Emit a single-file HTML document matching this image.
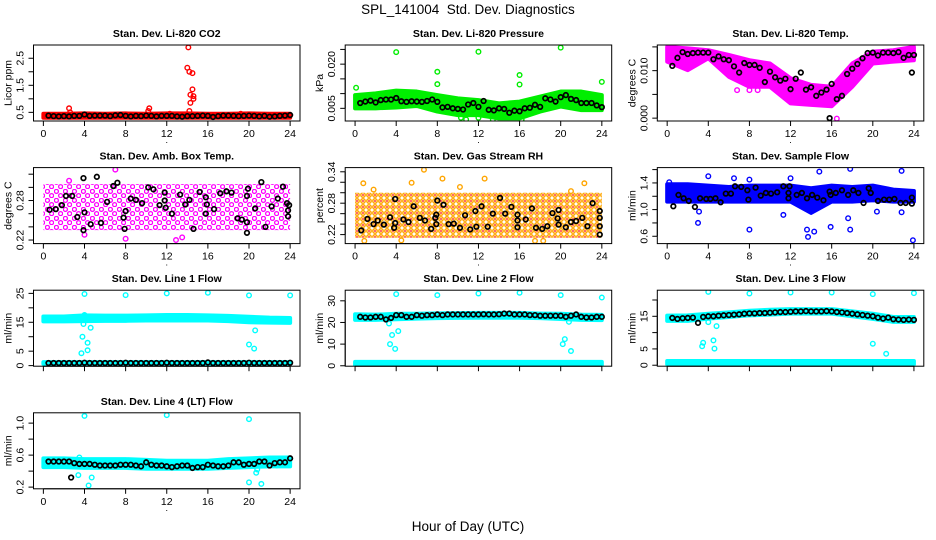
<!DOCTYPE html>
<html><head><meta charset="utf-8"><style>
body{margin:0;background:#fff;}
svg{display:block;font-family:"Liberation Sans",Arial,sans-serif;}
</style></head><body>
<svg id="chart" width="936" height="540" viewBox="0 0 936 540" xmlns="http://www.w3.org/2000/svg">
<defs>
<pattern id="patMag" width="9" height="9" patternUnits="userSpaceOnUse"><circle cx="2.4" cy="2.4" r="2.0" fill="none" stroke="#ff00ff" stroke-width="1.3"/><circle cx="6.6" cy="6.6" r="2.0" fill="none" stroke="#ff00ff" stroke-width="1.3"/></pattern>
<pattern id="patOrg" width="6" height="6" patternUnits="userSpaceOnUse"><circle cx="3" cy="3" r="2.2" fill="none" stroke="#ffa500" stroke-width="1.5"/><circle cx="3" cy="3" r="0.9" fill="#ff0000"/></pattern>
</defs>
<text x="468" y="14" text-anchor="middle" font-size="13.5">SPL_141004&#160; Std. Dev. Diagnostics</text>
<text x="468" y="531" text-anchor="middle" font-size="13.5">Hour of Day (UTC)</text>
</svg>
<script>
const bandHours = [0,2,4,6,8,10,12,14,16,18,20,22,24];
const halfHours = [0.5,1,1.5,2,2.5,3,3.5,4,4.5,5,5.5,6,6.5,7,7.5,8,8.5,9,9.5,10,10.5,11,11.5,12,12.5,13,13.5,14,14.5,15,15.5,16,16.5,17,17.5,18,18.5,19,19.5,20,20.5,21,21.5,22,22.5,23,23.5,24];
const xTicks = [0,4,8,12,16,20,24];

// P1 CO2
const co2BandLo = [0.30,0.30,0.30,0.30,0.30,0.30,0.30,0.30,0.30,0.30,0.30,0.30,0.30];
const co2BandHi = [0.45,0.45,0.46,0.45,0.46,0.45,0.46,0.46,0.45,0.45,0.46,0.45,0.45];
const co2OutX = [2.5,2.6,10.3,10.2,12.3,14.1,14.0,14.2,14.5,14.5,14.3,14.6,14.6,14.3,14.2,19.2];
const co2OutY = [0.65,0.5,0.65,0.55,0.45,2.9,2.15,2.0,1.95,1.35,1.15,1.1,1.0,0.85,0.55,0.45];
const co2Black = [0.38,0.36,0.35,0.36,0.35,0.37,0.37,0.42,0.37,0.38,0.38,0.38,0.36,0.39,0.40,0.37,0.35,0.37,0.36,0.38,0.37,0.35,0.37,0.37,0.37,0.35,0.34,0.36,0.36,0.37,0.38,0.37,0.33,0.36,0.38,0.38,0.37,0.36,0.37,0.38,0.37,0.35,0.37,0.34,0.35,0.37,0.38,0.40];

// P2 Pressure
const presBandLo = [0.005,0.005,0.0053,0.0058,0.0039,0.0027,0.0027,0.0016,0.0016,0.0039,0.0056,0.0044,0.0044];
const presBandHi = [0.0095,0.0101,0.011,0.0107,0.0095,0.0084,0.0078,0.0067,0.0073,0.0090,0.0107,0.0107,0.0095];
const presOutX = [0.1,4.0,8.0,8.0,12.0,16.0,16.0,20.0,24.0,10.3,10.8,12.0,13.4,16.2];
const presOutY = [0.012,0.0241,0.0174,0.0132,0.0242,0.0163,0.0131,0.0256,0.014,0.0018,0.0012,0.0018,0.0012,0.0012];
const presBlack = [0.0068,0.0073,0.0076,0.0070,0.0078,0.0080,0.0080,0.0085,0.0074,0.0072,0.0074,0.0073,0.0072,0.0075,0.0080,0.0072,0.0053,0.0055,0.0050,0.0048,0.0046,0.0063,0.0068,0.0055,0.0075,0.0045,0.0043,0.0050,0.0048,0.0035,0.0042,0.0040,0.0050,0.0052,0.0062,0.0055,0.0084,0.0080,0.0073,0.0088,0.0095,0.0082,0.0078,0.0068,0.0068,0.0068,0.0060,0.0054];

// P3 Temp
const tempBandLo = [0.0119,0.0101,0.0126,0.0087,0.0066,0.0066,0.0031,0.0028,0.0025,0.0066,0.0115,0.0119,0.0122];
const tempBandHi = [0.0150,0.0147,0.0143,0.0133,0.0122,0.0115,0.0084,0.0070,0.0066,0.0115,0.0140,0.0143,0.0150];
const tempOutX = [6.8,8.0,8.8,16.5];
const tempOutY = [0.0059,0.0059,0.0059,-0.0001];
const tempBlack = [0.0110,0.0127,0.0139,0.0135,0.0137,0.0138,0.0138,0.0138,0.0124,0.0130,0.0124,0.0122,0.0109,0.0096,0.0116,0.0112,0.0112,0.0106,0.0076,0.0098,0.0086,0.0079,0.0083,0.0061,0.0083,0.0096,0.0060,0.0065,0.0047,0.0054,0.0060,0.0072,0.0040,0.0047,0.0093,0.0104,0.0114,0.0126,0.0137,0.0138,0.0132,0.0138,0.0138,0.0137,0.0139,0.0127,0.0133,0.0133];
const tempExtraX = [15.8,23.8];
const tempExtraY = [0.0,0.0096];

// P4 Amb box temp
const ambBandLo = [0.235,0.235,0.235,0.235,0.235,0.235,0.235,0.235,0.235,0.235,0.235,0.235,0.235];
const ambBandHi = [0.305,0.305,0.305,0.305,0.305,0.305,0.305,0.305,0.305,0.305,0.305,0.305,0.305];
const ambOutX = [7.0,12.9,8.0,13.5,4.0,2.5];
const ambOutY = [0.327,0.22,0.222,0.224,0.228,0.31];
const ambBlackX = [0.6,1.2,1.8,2.2,2.8,3.3,3.9,3.9,4.0,4.6,5.2,5.6,6.2,6.8,7.2,7.8,7.9,8.0,8.5,9.0,9.6,10.2,10.7,11.3,11.8,11.8,11.9,12.5,13.3,13.8,14.2,14.6,15.2,15.8,15.9,15.8,16.6,17.2,17.8,18.3,18.9,19.3,19.8,19.8,19.8,19.9,20.6,21.2,21.6,22.2,22.8,23.3,23.7,23.8,23.8,23.9];
const ambBlackY = [0.266,0.267,0.273,0.287,0.287,0.255,0.235,0.314,0.262,0.244,0.316,0.246,0.278,0.302,0.307,0.254,0.237,0.264,0.283,0.281,0.276,0.300,0.297,0.273,0.292,0.280,0.269,0.260,0.289,0.274,0.281,0.237,0.293,0.285,0.274,0.260,0.267,0.291,0.294,0.292,0.253,0.251,0.287,0.247,0.231,0.298,0.268,0.308,0.240,0.271,0.283,0.301,0.276,0.265,0.256,0.273];

// P5 Gas stream RH
const rhBandLo = [0.214,0.214,0.214,0.214,0.214,0.214,0.214,0.214,0.214,0.214,0.214,0.214,0.214];
const rhBandHi = [0.300,0.300,0.300,0.300,0.300,0.300,0.300,0.300,0.300,0.300,0.300,0.300,0.300];
const rhOutX = [0.8,1.8,5.5,6.7,8.5,10.2,12.6,22.3,21.0,0.9,4.5,17.5,18.3];
const rhOutY = [0.318,0.306,0.319,0.344,0.327,0.311,0.327,0.318,0.303,0.208,0.209,0.208,0.208];
const rhBlackX = [0.6,1.2,1.8,2.2,2.8,3.4,3.9,3.9,3.8,4.7,5.2,5.7,6.3,6.8,7.4,7.8,7.9,7.9,8.0,8.6,9.1,9.6,10.2,10.7,11.2,11.7,11.8,12.3,12.9,13.4,14.1,14.6,15.2,15.8,15.8,15.8,16.6,17.2,17.6,18.2,18.7,19.2,19.7,19.8,19.8,20.5,21.0,21.5,22.1,22.6,23.1,23.8,23.8,23.8,23.8];
const rhBlackY = [0.228,0.250,0.240,0.247,0.239,0.253,0.288,0.242,0.233,0.249,0.244,0.274,0.252,0.247,0.231,0.252,0.258,0.240,0.285,0.277,0.240,0.241,0.233,0.257,0.230,0.265,0.235,0.274,0.235,0.260,0.290,0.260,0.273,0.258,0.247,0.234,0.249,0.270,0.233,0.231,0.236,0.261,0.251,0.267,0.239,0.234,0.244,0.246,0.252,0.236,0.280,0.265,0.252,0.236,0.220];

// P6 Sample flow
const sfBandLo = [1.12,1.12,1.12,1.12,1.12,1.12,1.12,0.95,1.12,1.12,1.14,1.12,1.12];
const sfBandHi = [1.38,1.38,1.36,1.34,1.36,1.36,1.36,1.32,1.36,1.34,1.36,1.30,1.28];
const sfOutX = [4.0,6.5,8.0,8.0,3.0,12.0,13.6,13.7,14.3,14.8,15.9,17.8,17.8,17.6,20.4,22.8,22.8,23.9,11.3,3.1,0.2];
const sfOutY = [1.5,1.47,1.45,0.7,0.8,1.47,0.7,0.59,0.67,1.57,0.74,1.61,0.7,0.87,0.97,1.58,0.96,0.54,0.92,0.97,1.41];
const sfBlackX = [0.6,1.1,1.6,2.1,2.7,3.2,3.8,4.2,4.7,5.2,5.7,6.2,6.6,7.2,7.8,7.9,8.6,9.1,9.6,10.1,10.7,11.3,11.8,11.8,11.9,12.6,13.1,13.6,14.1,14.6,15.2,15.8,15.9,16.4,17.0,17.6,18.1,18.6,19.1,19.6,19.8,20.5,21.1,21.6,22.1,22.7,23.2,23.8,23.8];
const sfBlackY = [1.05,1.22,1.17,1.13,1.04,1.17,1.16,1.16,1.17,1.11,1.24,1.24,1.35,1.34,1.29,1.15,1.33,1.21,1.25,1.24,1.26,1.35,1.25,1.17,1.35,1.22,1.25,1.17,1.22,1.18,1.14,1.27,1.22,1.25,1.29,1.22,1.29,1.25,1.10,1.32,1.25,1.13,1.15,1.15,1.16,1.10,1.10,1.18,1.09];

// P7 Line 1
const l1BandLo = [15.3,15.3,15.4,15.5,15.5,15.6,15.6,15.6,15.6,15.4,15.0,14.9,14.8];
const l1BandHi = [17.0,17.0,17.4,17.3,17.3,17.4,17.5,17.5,17.4,17.2,16.9,16.6,16.5];
const l1LowLo = [0.6,0.6,0.6,0.6,0.6,0.6,0.6,0.6,0.6,0.6,0.6,0.6,0.6];
const l1LowHi = [1.2,1.2,1.2,1.2,1.2,1.2,1.2,1.2,1.2,1.2,1.2,1.2,1.2];
const l1OutX = [3.7,3.8,4.0,4.0,3.9,4.3,4.3,4.6,8.0,12.0,16.0,20.0,20.0,20.5,20.6,24.0,16.5];
const l1OutY = [4.3,10.0,24.8,17.5,14.4,7.9,5.3,13.1,24.4,25.0,25.2,24.3,7.3,5.9,12.2,24.3,-0.3];
const l1Black = [0.9,0.9,0.9,0.9,0.9,0.9,0.9,1.0,0.9,0.9,0.9,0.9,0.9,0.9,0.9,1.0,0.9,0.9,0.9,0.9,0.9,0.9,0.9,1.0,0.9,0.9,0.9,0.9,0.9,0.9,0.9,1.1,0.9,0.9,0.9,0.9,0.9,0.9,0.9,1.0,0.9,0.9,0.9,0.9,0.9,0.9,0.9,1.0];

// P8 Line 2
const l2BandLo = [21.2,21.2,21.5,21.8,22.0,22.1,22.2,22.2,22.2,22.0,21.6,21.2,21.1];
const l2BandHi = [23.8,23.6,24.0,24.0,24.2,24.3,24.4,24.4,24.4,24.1,24.0,23.6,23.5];
const l2LowLo = [0.3,0.3,0.3,0.3,0.3,0.3,0.3,0.3,0.3,0.3,0.3,0.3,0.3];
const l2LowHi = [1.8,1.8,1.8,1.8,1.8,1.8,1.8,1.8,1.8,1.8,1.8,1.8,1.8];
const l2OutX = [4.0,8.0,12.0,16.0,20.0,24.0,3.3,3.4,3.6,4.2,3.9,20.2,20.4,20.8,21.0];
const l2OutY = [33.1,32.6,33.4,33.7,32.6,31.5,19.5,10.0,14.2,16.0,7.8,10.0,12.3,20.3,6.8];
const l2Black = [22.6,22.3,22.3,22.6,22.6,21.4,22.1,23.4,23.4,22.6,22.6,23.4,23.1,23.4,23.4,23.7,23.4,23.7,23.7,23.7,23.7,23.7,23.7,23.7,23.8,23.7,23.7,23.8,24.1,24.1,23.7,23.7,23.7,23.4,23.4,23.1,23.1,23.1,23.1,23.1,22.6,23.1,23.7,22.6,22.3,22.3,22.6,22.6];

// P9 Line 3
const l3BandLo = [13.6,13.6,14.3,14.8,15.3,15.5,15.8,15.8,15.8,15.0,14.2,13.3,13.3];
const l3BandHi = [15.2,15.3,15.8,16.2,16.7,17.0,17.2,17.2,17.2,16.5,15.8,14.8,14.8];
const l3LowLo = [0.3,0.3,0.3,0.3,0.3,0.3,0.3,0.3,0.3,0.3,0.3,0.3,0.3];
const l3LowHi = [1.3,1.3,1.3,1.3,1.3,1.3,1.3,1.3,1.3,1.3,1.3,1.3,1.3];
const l3OutX = [4.0,8.0,12.0,16.0,20.0,24.0,3.4,3.5,4.5,4.6,4.8,4.0,20.0,21.3];
const l3OutY = [22.5,22.0,22.3,22.3,21.8,22.1,5.8,6.9,7.6,5.1,12.0,13.2,6.6,3.5];
const l3Black = [14.5,14.2,14.4,14.5,14.6,13.0,14.8,15.0,15.0,15.2,15.3,15.4,15.5,15.6,15.8,15.9,15.9,16.0,16.0,16.1,16.2,16.3,16.3,16.4,16.5,16.5,16.6,16.5,16.5,16.5,16.6,16.5,16.3,16.2,16.0,15.8,15.6,15.4,15.2,15.0,14.6,14.3,14.6,14.1,14.0,13.9,14.0,13.9];

// P10 Line 4
const l4BandLo = [0.45,0.45,0.44,0.44,0.44,0.43,0.43,0.43,0.43,0.44,0.45,0.46,0.46];
const l4BandHi = [0.56,0.56,0.55,0.55,0.55,0.54,0.53,0.53,0.53,0.55,0.56,0.57,0.57];
const l4OutX = [4.0,12.0,20.0,3.4,4.4,4.7,3.5,20.0,20.7,20.8,21.2,22.7];
const l4OutY = [1.09,1.10,1.05,0.35,0.22,0.32,0.57,0.26,0.38,0.42,0.24,0.47];
const l4Black = [0.52,0.52,0.52,0.52,0.52,0.50,0.49,0.49,0.49,0.48,0.47,0.47,0.47,0.47,0.48,0.48,0.48,0.47,0.46,0.51,0.48,0.47,0.47,0.46,0.45,0.46,0.47,0.47,0.44,0.45,0.45,0.48,0.47,0.46,0.46,0.47,0.51,0.51,0.48,0.49,0.49,0.52,0.52,0.47,0.50,0.51,0.51,0.56];
const l4ExtraX = [2.7];
const l4ExtraY = [0.32];

const NS = "http://www.w3.org/2000/svg";
const svg = document.getElementById("chart");
const colLeft = [33.5, 345.2, 657.3];
const rowTop = [45, 167.6, 290.2, 412.8];
const boxW = 266.5, boxH = 76;

function mk(tag, attrs, parent) {
  const e = document.createElementNS(NS, tag);
  for (const k in attrs) e.setAttribute(k, attrs[k]);
  (parent || svg).appendChild(e);
  return e;
}

function panel(p) {
  const L = colLeft[p.col], T = rowTop[p.row], B = T + boxH, R = L + boxW;
  const g = mk("g", {});
  
  
  const xs = h => L + (h + 0.96) / 25.92 * boxW;
  const ys = v => B - (v - p.lo) / (p.hi - p.lo) * boxH;
  const cp = mk("clipPath", {id: "clip-" + p.name}, g);
  mk("rect", {x: L, y: T, width: boxW, height: boxH}, cp);
  const pg = mk("g", {"clip-path": "url(#clip-" + p.name + ")"}, g);
  function band(lo, hi, fill, col) {
    let d = "";
    bandHours.forEach((h, i) => { d += (i ? "L" : "M") + xs(h) + "," + ys(hi[i]); });
    for (let i = bandHours.length - 1; i >= 0; i--) d += "L" + xs(bandHours[i]) + "," + ys(lo[i]);
    const b = mk("path", {d: d + "Z", fill: fill, stroke: col, "stroke-width": 4, "stroke-linejoin": "round"}, pg);
    
    
  }
  function pts(X, Y, col, sw, nm) {
    X.forEach((x, i) => {
      if (Y[i] == null) return;
      const c = mk("circle", {cx: xs(x), cy: ys(Y[i]), r: 2.3, fill: "none", stroke: col, "stroke-width": sw}, pg);
      
      
    });
  }
  if (p.band) band(p.band[0], p.band[1], p.fill || p.color, p.edge || p.color);
  if (p.low) band(p.low[0], p.low[1], p.color, p.color);
  if (p.outX) pts(p.outX, p.outY, p.color, 1.4, p.name + '-outlier-point');
  if (p.blackX) pts(p.blackX, p.blackY, "#000", 1.7, p.name + '-black-point');
  if (p.extraX) pts(p.extraX, p.extraY, "#000", 1.7, p.name + '-black-point');
  const bx = mk("rect", {x: L, y: T, width: boxW, height: boxH, fill: "none", stroke: "#000", "stroke-width": 1}, g);
  
  
  const t = mk("text", {x: L + boxW / 2, y: T - 8, "text-anchor": "middle", "font-size": "10.5", "font-weight": "bold"}, g);
  t.textContent = p.title;
  
  
  mk("line", {x1: xs(0), x2: xs(24), y1: B, y2: B, stroke: "#000"}, g);
  xTicks.forEach(h => {
    mk("line", {x1: xs(h), x2: xs(h), y1: B, y2: B + 5, stroke: "#000"}, g);
    if (p.xlabels) {
      const tl = mk("text", {x: xs(h), y: B + 16, "text-anchor": "middle", "font-size": "10.5"}, g);
      tl.textContent = String(h);
      
      
    }
  });
  if (p.xlabels) {
    const dot = mk("text", {x: L + boxW / 2, y: B + 22, "text-anchor": "middle", "font-size": "9"}, g);
    dot.textContent = ".";
    
    
  }
  mk("line", {x1: L, x2: L, y1: ys(p.ticks[0]), y2: ys(p.ticks[p.ticks.length - 1]), stroke: "#000"}, g);
  p.ticks.forEach((v, i) => {
    const y = ys(v);
    mk("line", {x1: L - 5, x2: L, y1: y, y2: y, stroke: "#000"}, g);
    if (p.tickLabels[i]) {
      const tl = mk("text", {x: 0, y: 0, "text-anchor": "middle", "font-size": "10.5", transform: "translate(" + (L - 10) + "," + y + ") rotate(-90)"}, g);
      tl.textContent = p.tickLabels[i];
      
      
    }
  });
  const yl = mk("text", {x: 0, y: 0, "text-anchor": "middle", "font-size": "10.5", transform: "translate(" + (L - 22) + "," + (T + boxH / 2) + ") rotate(-90)"}, g);
  yl.textContent = p.ylab;
  
  
}

panel({name: "co2", col: 0, row: 0, title: "Stan. Dev. Li-820 CO2", ylab: "Licor ppm", lo: 0.18, hi: 2.99, color: "#ff0000", band: [co2BandLo, co2BandHi], outX: co2OutX, outY: co2OutY, blackX: halfHours, blackY: co2Black, ticks: [0.5,1,1.5,2,2.5], tickLabels: ["0.5","","1.5","","2.5"], xlabels: true});
panel({name: "pressure", col: 1, row: 0, title: "Stan. Dev. Li-820 Pressure", ylab: "kPa", lo: 0.0007, hi: 0.0265, color: "#00ee00", band: [presBandLo, presBandHi], outX: presOutX, outY: presOutY, blackX: halfHours, blackY: presBlack, ticks: [0.005,0.010,0.015,0.020,0.025], tickLabels: ["0.005","","","0.020",""], xlabels: true});
panel({name: "temp", col: 2, row: 0, title: "Stan. Dev. Li-820 Temp.", ylab: "degrees C", lo: -0.0006, hi: 0.0154, color: "#ff00ff", band: [tempBandLo, tempBandHi], outX: tempOutX, outY: tempOutY, blackX: halfHours, blackY: tempBlack, extraX: tempExtraX, extraY: tempExtraY, ticks: [0,0.005,0.010,0.015], tickLabels: ["0.000","","0.010",""], xlabels: true});
panel({name: "amb-box-temp", col: 0, row: 1, title: "Stan. Dev. Amb. Box Temp.", ylab: "degrees C", lo: 0.2146, hi: 0.33, color: "#ff00ff", fill: "url(#patMag)", edge: "none", band: [ambBandLo, ambBandHi], outX: ambOutX, outY: ambOutY, blackX: ambBlackX, blackY: ambBlackY, ticks: [0.22,0.24,0.26,0.28,0.30,0.32], tickLabels: ["0.22","","","0.28","",""], xlabels: true});
panel({name: "gas-rh", col: 1, row: 1, title: "Stan. Dev. Gas Stream RH", ylab: "percent", lo: 0.2028, hi: 0.348, color: "#ffa500", fill: "url(#patOrg)", edge: "none", band: [rhBandLo, rhBandHi], outX: rhOutX, outY: rhOutY, blackX: rhBlackX, blackY: rhBlackY, ticks: [0.22,0.24,0.26,0.28,0.30,0.32,0.34], tickLabels: ["0.22","","","0.28","","","0.34"], xlabels: true});
panel({name: "sample-flow", col: 2, row: 1, title: "Stan. Dev. Sample Flow", ylab: "ml/min", lo: 0.49, hi: 1.63, color: "#0000ff", band: [sfBandLo, sfBandHi], outX: sfOutX, outY: sfOutY, blackX: sfBlackX, blackY: sfBlackY, ticks: [0.6,0.8,1.0,1.2,1.4,1.6], tickLabels: ["0.6","","1.0","","1.4",""], xlabels: true});
panel({name: "line1-flow", col: 0, row: 2, title: "Stan. Dev. Line 1 Flow", ylab: "ml/min", lo: -0.2, hi: 26.1, color: "#00ffff", band: [l1BandLo, l1BandHi], low: [l1LowLo, l1LowHi], outX: l1OutX, outY: l1OutY, blackX: halfHours, blackY: l1Black, ticks: [0,5,10,15,20,25], tickLabels: ["0","5","","15","","25"], xlabels: false});
panel({name: "line2-flow", col: 1, row: 2, title: "Stan. Dev. Line 2 Flow", ylab: "ml/min", lo: -0.2, hi: 34.9, color: "#00ffff", band: [l2BandLo, l2BandHi], low: [l2LowLo, l2LowHi], outX: l2OutX, outY: l2OutY, blackX: halfHours, blackY: l2Black, ticks: [0,10,20,30], tickLabels: ["0","10","20","30"], xlabels: false});
panel({name: "line3-flow", col: 2, row: 2, title: "Stan. Dev. Line 3 Flow", ylab: "ml/min", lo: -0.3, hi: 23.0, color: "#00ffff", band: [l3BandLo, l3BandHi], low: [l3LowLo, l3LowHi], outX: l3OutX, outY: l3OutY, blackX: halfHours, blackY: l3Black, ticks: [0,5,10,15,20], tickLabels: ["0","5","","15",""], xlabels: false});
panel({name: "line4-flow", col: 0, row: 3, title: "Stan. Dev. Line 4 (LT) Flow", ylab: "ml/min", lo: 0.179, hi: 1.129, color: "#00ffff", band: [l4BandLo, l4BandHi], outX: l4OutX, outY: l4OutY, blackX: halfHours, blackY: l4Black, extraX: l4ExtraX, extraY: l4ExtraY, ticks: [0.2,0.4,0.6,0.8,1.0], tickLabels: ["0.2","","0.6","","1.0"], xlabels: true});
</script>
</body></html>
